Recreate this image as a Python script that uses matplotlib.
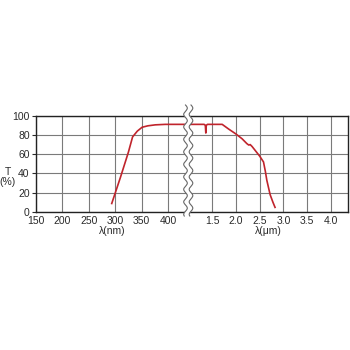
import numpy as np
import matplotlib
matplotlib.use("Agg")
import matplotlib.pyplot as plt
from matplotlib.patches import Polygon

plt.rcParams["font.family"] = ["Liberation Sans", "DejaVu Sans"]

# UV side (nm)
nm_x = [293, 310, 325, 333, 342, 351, 362, 376, 395, 420, 440]
nm_t = [8, 36, 62, 78, 84, 88, 89.5, 90.5, 91, 91, 91]

# IR side (um)
um_x = [0.95, 1.33, 1.355, 1.365, 1.375, 1.40, 1.71, 1.85, 2.0, 2.13, 2.23,
        2.27, 2.30, 2.34, 2.42, 2.5, 2.58, 2.62, 2.65, 2.72, 2.78, 2.83]
um_t = [91, 91, 90, 82, 90, 91, 91, 86, 81, 76, 71, 69.5, 70, 68, 63, 58, 52,
        42, 33, 18, 10, 4]

nm_ticks = [150, 200, 250, 300, 350, 400]
um_ticks = [1.5, 2.0, 2.5, 3.0, 3.5, 4.0]
t_ticks = [0, 20, 40, 60, 80, 100]

W, H = 350, 350
fig = plt.figure(figsize=(3.5, 3.5), dpi=100)
bot, top = 1 - 212 / H, 1 - 115.7 / H
xl, xm, xr = 36 / W, 188 / W, 348 / W
ax1 = fig.add_axes([xl, bot, xm - xl, top - bot])
ax2 = fig.add_axes([xm, bot, xr - xm, top - bot])

red = "#c0242c"
grid_c = "#7a7a7a"
txt_c = "#2a2a2a"

ax1.plot(nm_x, nm_t, color=red, lw=1.2, solid_capstyle="butt")
ax2.plot(um_x, um_t, color=red, lw=1.2, solid_capstyle="butt")

ax1.set_xlim(150, 438)
ax2.set_xlim(0.99, 4.36)
for ax in (ax1, ax2):
    ax.set_ylim(0, 100)
    ax.set_yticks(t_ticks)
    ax.grid(True, color=grid_c, lw=0.8)
    ax.set_axisbelow(True)
    for s in ax.spines.values():
        s.set_color("#222222")
        s.set_linewidth(1.0)
    ax.tick_params(labelsize=7.5, colors=txt_c, length=3, width=0.8, pad=1.5)
    ax.tick_params(axis="x", length=0, pad=3)

ax1.set_xticks(nm_ticks)
ax1.set_xticklabels([str(v) for v in nm_ticks])
ax1.set_yticklabels([str(v) for v in t_ticks])
ax1.spines["right"].set_visible(False)
ax2.set_xticks(um_ticks)
ax2.set_xticklabels([f"{v:.1f}" for v in um_ticks])
ax2.tick_params(axis="y", left=False, labelleft=False)
ax2.spines["left"].set_visible(False)

ax1.set_xlabel("λ(nm)", fontsize=7.5, color=txt_c, labelpad=0)
ax2.set_xlabel("λ(μm)", fontsize=7.5, color=txt_c, labelpad=0)
fig.text(8 / W, 1 - 177 / H, "T\n(%)", fontsize=7.5, color=txt_c,
         ha="center", va="center", linespacing=1.0)

# axis break: white band between two wavy lines
yy = np.linspace(105, 216, 200)
amp, period = 1.8, 12.5
xa = 185.5 + amp * np.sin(2 * np.pi * (yy - 105) / period)
xb = 191.0 + amp * np.sin(2 * np.pi * (yy - 105) / period)
band = np.vstack([np.column_stack([xa, yy]), np.column_stack([xb, yy])[::-1]])
band[:, 0] /= W
band[:, 1] = 1 - band[:, 1] / H
fig.add_artist(Polygon(band, closed=True, facecolor="white", edgecolor="none",
                       transform=fig.transFigure, zorder=5))
for xs in (xa, xb):
    fig.add_artist(plt.Line2D(xs / W, 1 - yy / H, color="#666666", lw=0.8,
                              transform=fig.transFigure, zorder=6))

fig.savefig("out.png", dpi=100)
